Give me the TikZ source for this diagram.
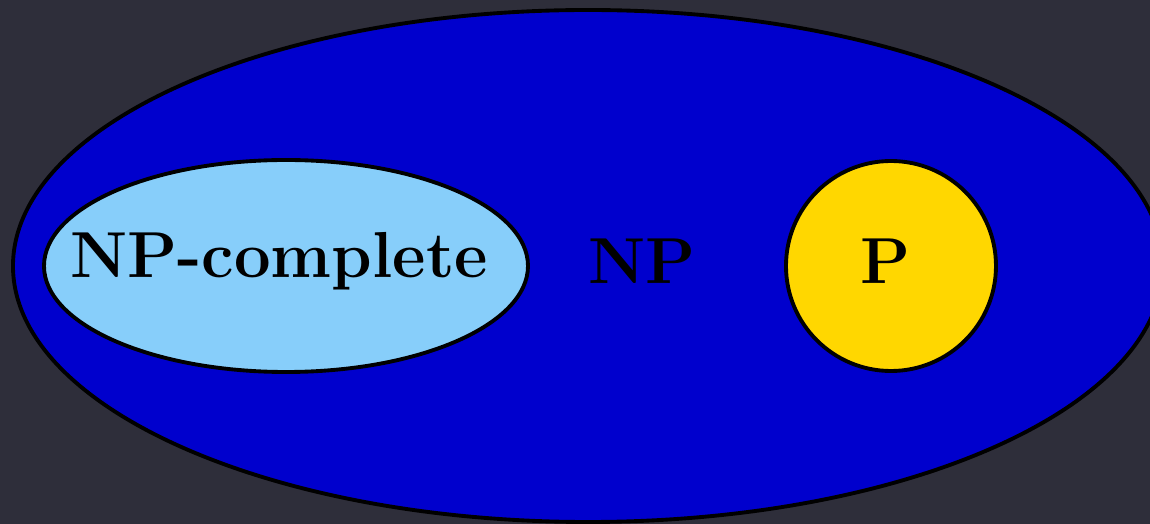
\documentclass[tikz,border=0pt]{standalone}
\usepackage{fontspec}
\usepackage{xcolor}
\usetikzlibrary{shapes.geometric, positioning}

\definecolor{bgdark}{HTML}{2E2E3A}
\definecolor{npblue}{HTML}{0000CD}
\definecolor{npcblue}{HTML}{87CEFA}
\definecolor{pgold}{HTML}{FFD700}

\begin{document}
\begin{tikzpicture}[set/.style={ellipse, draw=black, line width=2.2pt, inner sep=0pt},
                    setname/.style={font=\fontsize{37}{40}\selectfont\bfseries, text=black}]

            % Fondo
            \fill[bgdark] (-11.76,-5.16) rectangle (11.24,5.32);
            \useasboundingbox (-11.76,-5.16) rectangle (11.24,5.32);

            % Conjuntos
            \node[set, fill=npblue, minimum width=23cm, minimum height=10.24cm] (NP) at (0,0) {};
            \node[set, fill=npcblue, minimum width=9.68cm, minimum height=4.24cm] (NPC) at (-6.04,0) {};
            \node[set, circle, fill=pgold, minimum size=4.2cm] (P) at (6.06,0) {};

            % Etiquetas
            \node[setname] (NPClabel) at ([xshift=-0.14cm, yshift=0.1cm]NPC.center) {NP-complete};
            \node[setname] (NPlabel) at (1.08,0.1) {NP};
            \node[setname] (Plabel) at ([xshift=-0.1cm, yshift=0.1cm]P.center) {P};
        \end{tikzpicture}
\end{document}
